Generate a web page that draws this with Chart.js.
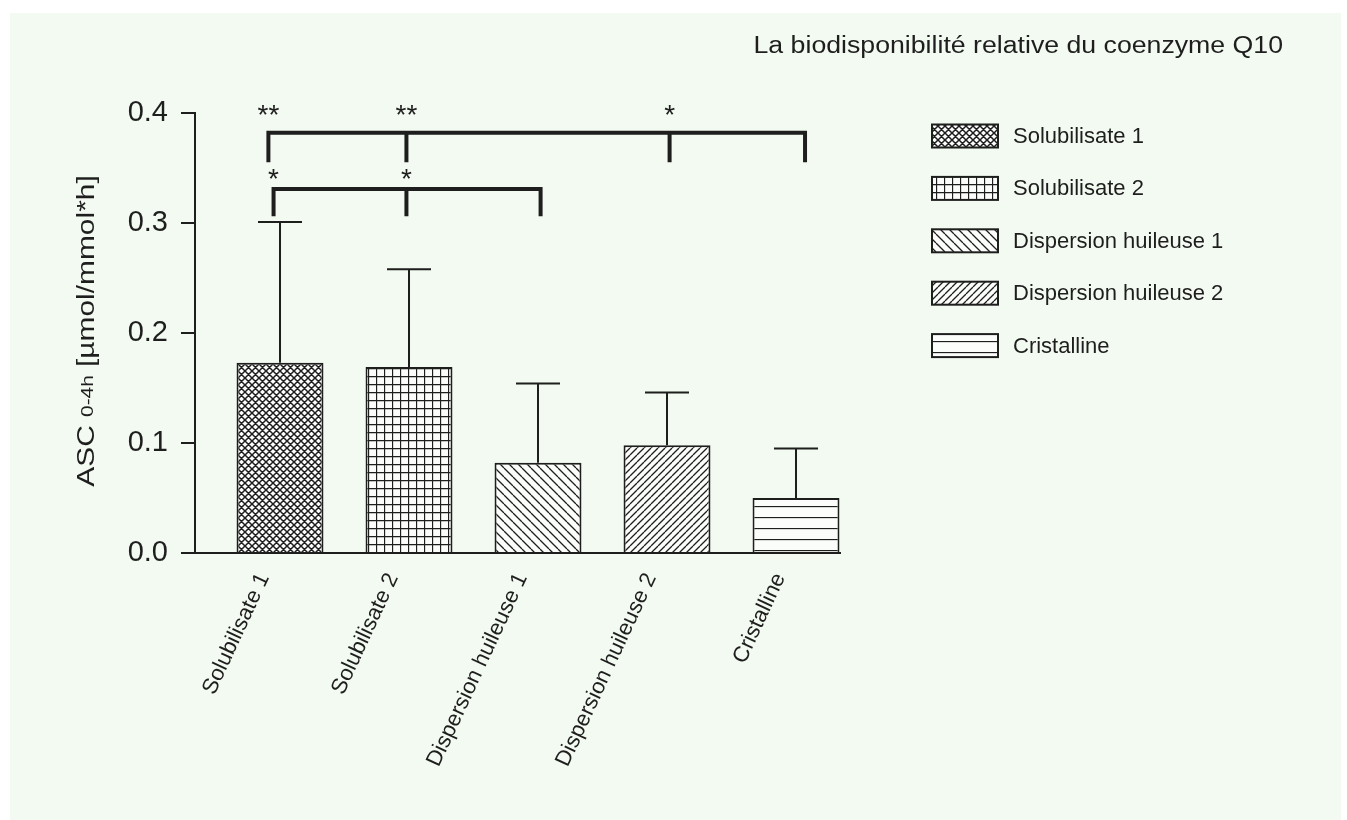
<!DOCTYPE html>
<html>
<head>
<meta charset="utf-8">
<script src="https://cdn.jsdelivr.net/npm/chart.js@4.4.1/dist/chart.umd.min.js"></script>
<style>
  html, body { margin: 0; padding: 0; background: #fff; }
  #wrap { width: 1347px; height: 820px; position: relative; }
</style>
</head>
<body>
<div id="wrap"><canvas id="chart"></canvas></div>
<script>
// Données
const categories = ['Solubilisate 1', 'Solubilisate 2', 'Dispersion huileuse 1', 'Dispersion huileuse 2', 'Cristalline'];
const means = [0.173, 0.169, 0.082, 0.098, 0.050];
const sd = [0.128, 0.089, 0.072, 0.048, 0.045];
const yTicks = [0.0, 0.1, 0.2, 0.3, 0.4];

// Crochets de significativité (niveaux en unités de l'axe Y, pattes en unités de catégorie)
const bracketLevels = [0.382, 0.331];
const bracketLegEnds = [0.357, 0.308];
const bracketLegs = [[-0.09, 0.98, 3.02, 4.07], [-0.05, 0.98, 2.02]];
const bracketStars = [['**', '**', '*', ''], ['*', '*', '']];
const starLevels = [0.403, 0.345];

const chartTitle = 'La biodisponibilité relative du coenzyme Q10';

const INK = '#1e1e1e';
const FONT = '"Liberation Sans", Arial, sans-serif';

// Motifs de hachures
function makePattern(kind) {
    const s = { cross: 7, grid: 8, back: 9, fwd: 7, horiz: 11 }[kind];
    const c = document.createElement('canvas');
    c.width = s; c.height = s;
    const g = c.getContext('2d');
    g.fillStyle = '#fbfdfa';
    g.fillRect(0, 0, s, s);
    g.strokeStyle = INK;
    g.lineWidth = kind === 'cross' ? 1.5 : 1.3;
    g.beginPath();
    if (kind === 'cross' || kind === 'back') {
        for (const k of [-s, 0, s]) { g.moveTo(k, 0); g.lineTo(k + s, s); }
    }
    if (kind === 'cross' || kind === 'fwd') {
        for (const k of [-s, 0, s]) { g.moveTo(k, s); g.lineTo(k + s, 0); }
    }
    if (kind === 'grid') {
        g.moveTo(0.5, 0); g.lineTo(0.5, s);
        g.moveTo(0, 0.5); g.lineTo(s, 0.5);
    }
    if (kind === 'horiz') {
        g.moveTo(0, 0.5); g.lineTo(s, 0.5);
    }
    g.stroke();
    return g.createPattern(c, 'repeat');
}
const patterns = ['cross', 'grid', 'back', 'fwd', 'horiz'].map(makePattern);

const decorPlugin = {
    id: 'decor',
    beforeDraw(chart) {
        const ctx = chart.ctx;
        ctx.save();
        ctx.fillStyle = '#ffffff';
        ctx.fillRect(0, 0, chart.width, chart.height);
        ctx.fillStyle = '#f3faf1';
        ctx.fillRect(10, 13, chart.width - 16, chart.height - 13);
        ctx.restore();
    },
    afterDatasetsDraw(chart) {
        const ctx = chart.ctx;
        const x = chart.scales.x, y = chart.scales.y;
        const meta = chart.getDatasetMeta(0);
        ctx.save();
        ctx.strokeStyle = INK;
        ctx.fillStyle = INK;

        // barres d'erreur (vers le haut seulement)
        ctx.lineWidth = 2;
        meta.data.forEach((bar, i) => {
            const top = y.getPixelForValue(means[i] + sd[i]);
            ctx.beginPath();
            ctx.moveTo(bar.x, bar.y);
            ctx.lineTo(bar.x, top);
            ctx.moveTo(bar.x - 22, top);
            ctx.lineTo(bar.x + 22, top);
            ctx.stroke();
        });

        // crochets + étoiles
        ctx.lineWidth = 4;
        ctx.lineCap = 'square';
        bracketLevels.forEach((lvl, b) => {
            const yy = y.getPixelForValue(lvl);
            const yEnd = y.getPixelForValue(bracketLegEnds[b]);
            const legs = bracketLegs[b].map(v => x.getPixelForValue(v));
            ctx.beginPath();
            ctx.moveTo(legs[0], yy);
            ctx.lineTo(legs[legs.length - 1], yy);
            legs.forEach(lx => { ctx.moveTo(lx, yy); ctx.lineTo(lx, yEnd); });
            ctx.stroke();

            ctx.font = '28px ' + FONT;
            ctx.textAlign = 'center';
            ctx.textBaseline = 'alphabetic';
            const sy = y.getPixelForValue(starLevels[b]) + 14;
            bracketStars[b].forEach((st, k) => {
                if (st) ctx.fillText(st, legs[k], sy);
            });
        });

        // titre
        ctx.font = '23px ' + FONT;
        ctx.textAlign = 'right';
        ctx.textBaseline = 'middle';
        ctx.save();
        ctx.translate(1283, 47);
        ctx.scale(1.16, 1);
        ctx.fillText(chartTitle, 0, 0);
        ctx.restore();

        // légende
        ctx.textAlign = 'left';
        ctx.font = '22px ' + FONT;
        ctx.lineWidth = 2;
        categories.forEach((name, i) => {
            const cy = 136 + 52.4 * i;
            ctx.fillStyle = patterns[i];
            ctx.fillRect(932, cy - 11.5, 66, 23);
            ctx.strokeRect(932, cy - 11.5, 66, 23);
            ctx.fillStyle = INK;
            ctx.fillText(name, 1013, cy + 1);
        });

        // titre de l'axe Y avec indice
        ctx.save();
        ctx.translate(88, 331);
        ctx.rotate(-Math.PI / 2);
        ctx.scale(1.3, 1);
        const partA = 'ASC ', partB = '0-4h', partC = ' [µmol/mmol*h]';
        ctx.font = '23px ' + FONT;
        const wa = ctx.measureText(partA).width, wc = ctx.measureText(partC).width;
        ctx.font = '16px ' + FONT;
        const wb = ctx.measureText(partB).width;
        let x0 = -(wa + wb + wc) / 2;
        ctx.textBaseline = 'middle';
        ctx.font = '23px ' + FONT;
        ctx.fillText(partA, x0, 0);
        ctx.font = '16px ' + FONT;
        ctx.fillText(partB, x0 + wa, 1);
        ctx.font = '23px ' + FONT;
        ctx.fillText(partC, x0 + wa + wb, 0);
        ctx.restore();

        ctx.restore();
    }
};

new Chart(document.getElementById('chart'), {
    type: 'bar',
    data: {
        datasets: [{
            data: means.map((v, i) => ({ x: i, y: v })),
            backgroundColor: patterns,
            borderColor: INK,
            borderWidth: 2,
            categoryPercentage: 1,
            barPercentage: 0.674
        }]
    },
    options: {
        responsive: true,
        maintainAspectRatio: false,
        animation: false,
        layout: { padding: { top: 113, right: 507, left: 0, bottom: 0 } },
        plugins: {
            legend: { display: false },
            tooltip: { enabled: false }
        },
        scales: {
            x: {
                type: 'linear',
                offset: false,
                min: -0.659,
                max: 4.341,
                afterBuildTicks: (s) => { s.ticks = categories.map((c, i) => ({ value: i })); },
                afterFit: (s) => { s.height = 267; },
                grid: { display: false, offset: false },
                border: { display: true, color: INK, width: 2 },
                ticks: {
                    autoSkip: false,
                    minRotation: 65,
                    maxRotation: 65,
                    padding: 8,
                    labelOffset: -16,
                    color: INK,
                    font: { family: FONT, size: 22 },
                    callback: (v) => categories[v]
                }
            },
            y: {
                min: 0,
                max: 0.4,
                afterBuildTicks: (s) => { s.ticks = yTicks.map(v => ({ value: v })); },
                afterFit: (s) => { s.width = 195; },
                grid: { drawOnChartArea: false, drawTicks: true, tickLength: 14, lineWidth: 2, color: INK },
                border: { display: true, color: INK, width: 2 },
                ticks: {
                    padding: 13,
                    color: INK,
                    font: { family: FONT, size: 29 },
                    callback: (v) => v.toFixed(1)
                }
            }
        }
    },
    plugins: [decorPlugin]
});
</script>
</body>
</html>
